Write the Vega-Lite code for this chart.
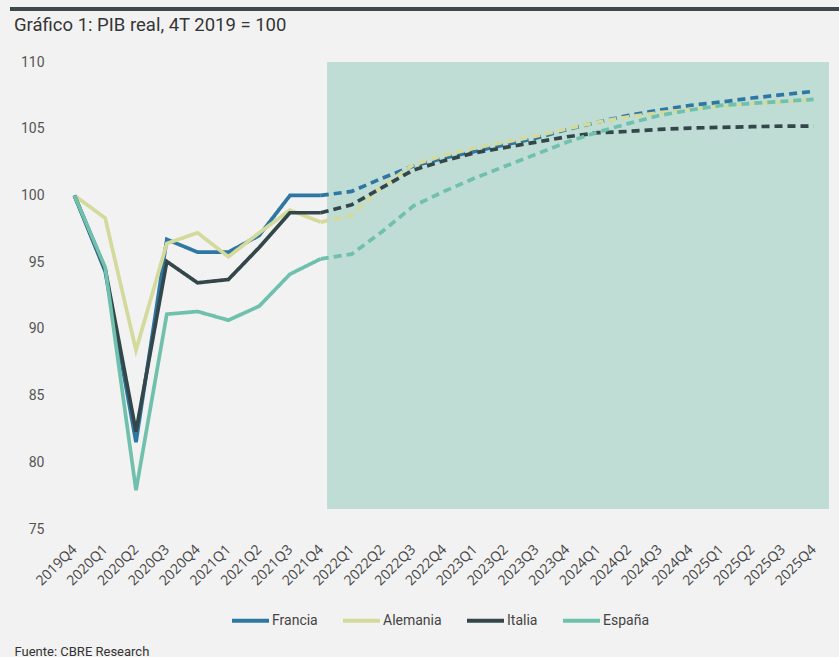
{
  "$schema": "https://vega.github.io/schema/vega-lite/v6.json",
  "autosize": "none",
  "width": 770,
  "height": 467,
  "padding": {"left": 59, "top": 62, "right": 10, "bottom": 128},
  "background": "#f2f2f2",
  "config": {
    "view": {"stroke": null},
    "font": "Roboto"
  },
  "title": {
    "text": "Gráfico 1: PIB real, 4T 2019 = 100",
    "anchor": "start",
    "frame": "group",
    "dx": -45,
    "offset": -27,
    "font": "Roboto",
    "fontSize": 18.5,
    "fontWeight": "normal",
    "color": "#353535"
  },
  "data": {
    "values": [
      {"q": "2019Q4", "pais": "Francia", "v": 100, "tramo": "Histórico"},
      {"q": "2020Q1", "pais": "Francia", "v": 94.3, "tramo": "Histórico"},
      {"q": "2020Q2", "pais": "Francia", "v": 81.5, "tramo": "Histórico"},
      {"q": "2020Q3", "pais": "Francia", "v": 96.7, "tramo": "Histórico"},
      {"q": "2020Q4", "pais": "Francia", "v": 95.75, "tramo": "Histórico"},
      {"q": "2021Q1", "pais": "Francia", "v": 95.75, "tramo": "Histórico"},
      {"q": "2021Q2", "pais": "Francia", "v": 97.0, "tramo": "Histórico"},
      {"q": "2021Q3", "pais": "Francia", "v": 100.0, "tramo": "Histórico"},
      {"q": "2021Q4", "pais": "Francia", "v": 100.0, "tramo": "Histórico"},
      {"q": "2019Q4", "pais": "Alemania", "v": 100, "tramo": "Histórico"},
      {"q": "2020Q1", "pais": "Alemania", "v": 98.3, "tramo": "Histórico"},
      {"q": "2020Q2", "pais": "Alemania", "v": 88.4, "tramo": "Histórico"},
      {"q": "2020Q3", "pais": "Alemania", "v": 96.4, "tramo": "Histórico"},
      {"q": "2020Q4", "pais": "Alemania", "v": 97.2, "tramo": "Histórico"},
      {"q": "2021Q1", "pais": "Alemania", "v": 95.4, "tramo": "Histórico"},
      {"q": "2021Q2", "pais": "Alemania", "v": 97.2, "tramo": "Histórico"},
      {"q": "2021Q3", "pais": "Alemania", "v": 98.9, "tramo": "Histórico"},
      {"q": "2021Q4", "pais": "Alemania", "v": 98.0, "tramo": "Histórico"},
      {"q": "2019Q4", "pais": "Italia", "v": 100, "tramo": "Histórico"},
      {"q": "2020Q1", "pais": "Italia", "v": 94.5, "tramo": "Histórico"},
      {"q": "2020Q2", "pais": "Italia", "v": 82.3, "tramo": "Histórico"},
      {"q": "2020Q3", "pais": "Italia", "v": 95.05, "tramo": "Histórico"},
      {"q": "2020Q4", "pais": "Italia", "v": 93.45, "tramo": "Histórico"},
      {"q": "2021Q1", "pais": "Italia", "v": 93.7, "tramo": "Histórico"},
      {"q": "2021Q2", "pais": "Italia", "v": 96.1, "tramo": "Histórico"},
      {"q": "2021Q3", "pais": "Italia", "v": 98.7, "tramo": "Histórico"},
      {"q": "2021Q4", "pais": "Italia", "v": 98.7, "tramo": "Histórico"},
      {"q": "2019Q4", "pais": "España", "v": 100, "tramo": "Histórico"},
      {"q": "2020Q1", "pais": "España", "v": 94.6, "tramo": "Histórico"},
      {"q": "2020Q2", "pais": "España", "v": 77.9, "tramo": "Histórico"},
      {"q": "2020Q3", "pais": "España", "v": 91.1, "tramo": "Histórico"},
      {"q": "2020Q4", "pais": "España", "v": 91.3, "tramo": "Histórico"},
      {"q": "2021Q1", "pais": "España", "v": 90.65, "tramo": "Histórico"},
      {"q": "2021Q2", "pais": "España", "v": 91.7, "tramo": "Histórico"},
      {"q": "2021Q3", "pais": "España", "v": 94.1, "tramo": "Histórico"},
      {"q": "2021Q4", "pais": "España", "v": 95.25, "tramo": "Histórico"},
      {"q": "2021Q4", "pais": "Francia", "v": 100.0, "tramo": "Previsión"},
      {"q": "2022Q1", "pais": "Francia", "v": 100.3, "tramo": "Previsión"},
      {"q": "2022Q2", "pais": "Francia", "v": 101.3, "tramo": "Previsión"},
      {"q": "2022Q3", "pais": "Francia", "v": 102.2, "tramo": "Previsión"},
      {"q": "2022Q4", "pais": "Francia", "v": 102.8, "tramo": "Previsión"},
      {"q": "2023Q1", "pais": "Francia", "v": 103.3, "tramo": "Previsión"},
      {"q": "2023Q2", "pais": "Francia", "v": 103.8, "tramo": "Previsión"},
      {"q": "2023Q3", "pais": "Francia", "v": 104.3, "tramo": "Previsión"},
      {"q": "2023Q4", "pais": "Francia", "v": 104.95, "tramo": "Previsión"},
      {"q": "2024Q1", "pais": "Francia", "v": 105.5, "tramo": "Previsión"},
      {"q": "2024Q2", "pais": "Francia", "v": 106.0, "tramo": "Previsión"},
      {"q": "2024Q3", "pais": "Francia", "v": 106.4, "tramo": "Previsión"},
      {"q": "2024Q4", "pais": "Francia", "v": 106.75, "tramo": "Previsión"},
      {"q": "2025Q1", "pais": "Francia", "v": 107.0, "tramo": "Previsión"},
      {"q": "2025Q2", "pais": "Francia", "v": 107.3, "tramo": "Previsión"},
      {"q": "2025Q3", "pais": "Francia", "v": 107.55, "tramo": "Previsión"},
      {"q": "2025Q4", "pais": "Francia", "v": 107.8, "tramo": "Previsión"},
      {"q": "2021Q4", "pais": "Alemania", "v": 98.0, "tramo": "Previsión"},
      {"q": "2022Q1", "pais": "Alemania", "v": 98.5, "tramo": "Previsión"},
      {"q": "2022Q2", "pais": "Alemania", "v": 100.7, "tramo": "Previsión"},
      {"q": "2022Q3", "pais": "Alemania", "v": 102.3, "tramo": "Previsión"},
      {"q": "2022Q4", "pais": "Alemania", "v": 103.0, "tramo": "Previsión"},
      {"q": "2023Q1", "pais": "Alemania", "v": 103.55, "tramo": "Previsión"},
      {"q": "2023Q2", "pais": "Alemania", "v": 104.0, "tramo": "Previsión"},
      {"q": "2023Q3", "pais": "Alemania", "v": 104.45, "tramo": "Previsión"},
      {"q": "2023Q4", "pais": "Alemania", "v": 105.0, "tramo": "Previsión"},
      {"q": "2024Q1", "pais": "Alemania", "v": 105.5, "tramo": "Previsión"},
      {"q": "2024Q2", "pais": "Alemania", "v": 105.9, "tramo": "Previsión"},
      {"q": "2024Q3", "pais": "Alemania", "v": 106.2, "tramo": "Previsión"},
      {"q": "2024Q4", "pais": "Alemania", "v": 106.45, "tramo": "Previsión"},
      {"q": "2025Q1", "pais": "Alemania", "v": 106.7, "tramo": "Previsión"},
      {"q": "2025Q2", "pais": "Alemania", "v": 106.9, "tramo": "Previsión"},
      {"q": "2025Q3", "pais": "Alemania", "v": 107.0, "tramo": "Previsión"},
      {"q": "2025Q4", "pais": "Alemania", "v": 107.2, "tramo": "Previsión"},
      {"q": "2021Q4", "pais": "Italia", "v": 98.7, "tramo": "Previsión"},
      {"q": "2022Q1", "pais": "Italia", "v": 99.3, "tramo": "Previsión"},
      {"q": "2022Q2", "pais": "Italia", "v": 100.6, "tramo": "Previsión"},
      {"q": "2022Q3", "pais": "Italia", "v": 101.9, "tramo": "Previsión"},
      {"q": "2022Q4", "pais": "Italia", "v": 102.6, "tramo": "Previsión"},
      {"q": "2023Q1", "pais": "Italia", "v": 103.2, "tramo": "Previsión"},
      {"q": "2023Q2", "pais": "Italia", "v": 103.6, "tramo": "Previsión"},
      {"q": "2023Q3", "pais": "Italia", "v": 104.0, "tramo": "Previsión"},
      {"q": "2023Q4", "pais": "Italia", "v": 104.4, "tramo": "Previsión"},
      {"q": "2024Q1", "pais": "Italia", "v": 104.7, "tramo": "Previsión"},
      {"q": "2024Q2", "pais": "Italia", "v": 104.8, "tramo": "Previsión"},
      {"q": "2024Q3", "pais": "Italia", "v": 104.95, "tramo": "Previsión"},
      {"q": "2024Q4", "pais": "Italia", "v": 105.05, "tramo": "Previsión"},
      {"q": "2025Q1", "pais": "Italia", "v": 105.1, "tramo": "Previsión"},
      {"q": "2025Q2", "pais": "Italia", "v": 105.15, "tramo": "Previsión"},
      {"q": "2025Q3", "pais": "Italia", "v": 105.2, "tramo": "Previsión"},
      {"q": "2025Q4", "pais": "Italia", "v": 105.2, "tramo": "Previsión"},
      {"q": "2021Q4", "pais": "España", "v": 95.25, "tramo": "Previsión"},
      {"q": "2022Q1", "pais": "España", "v": 95.6, "tramo": "Previsión"},
      {"q": "2022Q2", "pais": "España", "v": 97.3, "tramo": "Previsión"},
      {"q": "2022Q3", "pais": "España", "v": 99.2, "tramo": "Previsión"},
      {"q": "2022Q4", "pais": "España", "v": 100.3, "tramo": "Previsión"},
      {"q": "2023Q1", "pais": "España", "v": 101.3, "tramo": "Previsión"},
      {"q": "2023Q2", "pais": "España", "v": 102.2, "tramo": "Previsión"},
      {"q": "2023Q3", "pais": "España", "v": 103.1, "tramo": "Previsión"},
      {"q": "2023Q4", "pais": "España", "v": 104.0, "tramo": "Previsión"},
      {"q": "2024Q1", "pais": "España", "v": 104.75, "tramo": "Previsión"},
      {"q": "2024Q2", "pais": "España", "v": 105.4, "tramo": "Previsión"},
      {"q": "2024Q3", "pais": "España", "v": 106.0, "tramo": "Previsión"},
      {"q": "2024Q4", "pais": "España", "v": 106.4, "tramo": "Previsión"},
      {"q": "2025Q1", "pais": "España", "v": 106.75, "tramo": "Previsión"},
      {"q": "2025Q2", "pais": "España", "v": 106.9, "tramo": "Previsión"},
      {"q": "2025Q3", "pais": "España", "v": 107.05, "tramo": "Previsión"},
      {"q": "2025Q4", "pais": "España", "v": 107.2, "tramo": "Previsión"}
    ]
  },
  "layer": [
    {
      "mark": {"type": "rect", "fill": "#c0dcd5", "opacity": 0.92, "xOffset": 7, "x2Offset": 15},
      "encoding": {
        "x": {"datum": "2021Q4", "type": "ordinal"},
        "x2": {"datum": "2025Q4"},
        "y": {"datum": 110, "type": "quantitative"},
        "y2": {"datum": 76.5}
      }
    },
    {
      "mark": {"type": "rule", "stroke": "#3e4949", "strokeWidth": 3, "xOffset": -64, "x2Offset": 25},
      "encoding": {
        "x": {"datum": "2019Q4", "type": "ordinal"},
        "x2": {"datum": "2025Q4"},
        "y": {"datum": 113.97, "type": "quantitative"}
      }
    },
    {
      "mark": {"type": "line", "strokeWidth": 3.7, "strokeCap": "butt"},
      "encoding": {
        "x": {
          "field": "q",
          "type": "ordinal",
          "scale": {"type": "point", "padding": 0.5},
          "axis": {
            "title": "Fuente: CBRE Research",
            "titleX": -45,
            "titleY": 116,
            "titleAlign": "left",
            "titleBaseline": "top",
            "titleFont": "Roboto",
            "titleFontSize": 13,
            "titleFontWeight": "normal",
            "titleColor": "#333333",
            "labelAngle": -45,
            "labelAlign": "right",
            "labelBaseline": "middle",
            "labelFont": "Open Sans",
            "labelFontSize": 14,
            "labelColor": "#444444",
            "labelPadding": 18,
            "ticks": false,
            "domain": false,
            "grid": false
          }
        },
        "y": {
          "field": "v",
          "type": "quantitative",
          "scale": {"domain": [75, 110], "nice": false, "zero": false},
          "axis": {
            "title": null,
            "values": [75, 80, 85, 90, 95, 100, 105, 110],
            "labelFont": "Roboto",
            "labelFontSize": 14,
            "labelColor": "#555555",
            "labelPadding": 15,
            "ticks": false,
            "domain": false,
            "gridColor": "#d3dfde",
            "gridWidth": 1.5
          }
        },
        "color": {
          "field": "pais",
          "type": "nominal",
          "scale": {
            "domain": ["Francia", "Alemania", "Italia", "España"],
            "range": ["#2f77a3", "#d4d99c", "#33474a", "#6fc0ac"]
          },
          "legend": {
            "title": null,
            "orient": "none",
            "direction": "horizontal",
            "legendX": 171,
            "legendY": 538,
            "padding": 0,
            "symbolType": "stroke",
            "symbolSize": 1369,
            "symbolStrokeWidth": 4,
            "labelFont": "Roboto",
            "labelFontSize": 14,
            "labelColor": "#444444",
            "labelOffset": 1,
            "columnPadding": 17
          }
        },
        "strokeDash": {
          "field": "tramo",
          "type": "nominal",
          "scale": {"domain": ["Histórico", "Previsión"], "range": [[1, 0], [8, 5]]},
          "legend": null
        }
      }
    }
  ]
}
